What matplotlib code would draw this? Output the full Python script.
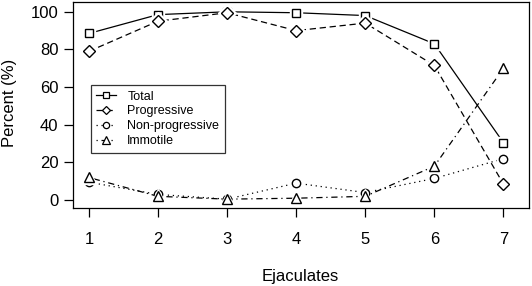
import numpy as np
import matplotlib
matplotlib.use('Agg')
import matplotlib.pyplot as plt

plt.rcParams["font.family"] = ["Liberation Sans", "DejaVu Sans"]

# data
ejaculates = [1, 2, 3, 4, 5, 6, 7]
total = [88.5, 98.5, 100, 99.5, 98, 83, 30.5]
progressive = [79, 95, 99.5, 90, 94, 71.5, 8.5]
non_progressive = [9.5, 3, 0.5, 9, 4, 11.5, 22]
immotile = [12, 2, 0.5, 1, 2, 18, 70]

series = [
    ("Total", total, "s", "-", 6.0),
    ("Progressive", progressive, "D", (0, (5, 3)), 6.0),
    ("Non-progressive", non_progressive, "o", (0, (1, 3)), 6.0),
    ("Immotile", immotile, "^", (0, (1, 3, 5, 3)), 7.0),
]

fig = plt.figure(figsize=(5.32, 2.86), dpi=100)
ax = fig.add_axes([73 / 532, 1 - 208 / 286, (529 - 73) / 532, 206 / 286])

names = []
for i, (name, vals, mk, ls, ms) in enumerate(series):
    z = 2 + i * 3
    ax.plot(ejaculates, vals, color="black", lw=0.9, ls=ls, zorder=z)
    # white halo so the line stops short of each point (like R type="b")
    ax.plot(ejaculates, vals, ls="none", marker=mk, ms=ms + 3, mfc="white",
            mec="white", zorder=z + 1)
    ax.plot(ejaculates, vals, ls="none", marker=mk, ms=ms, mfc="none",
            mec="black", mew=1.0, zorder=z + 2)
    names.append(name)

# legend handles with line + marker
leg_lines = []
for name, vals, mk, ls, ms in series:
    l, = ax.plot([], [], color="black", lw=0.9, ls=ls, marker=mk, ms=ms - 1.5,
                 mfc="white", mec="black", mew=0.9)
    leg_lines.append(l)
leg = ax.legend(leg_lines, names, loc="upper left",
                bbox_to_anchor=((90.5 - 73) / 456, (208 - 85) / 206),
                fontsize=9, frameon=True, fancybox=False, handlelength=1.6,
                handletextpad=0.9, borderpad=0.45, labelspacing=0.22,
                borderaxespad=0)
leg.get_frame().set_edgecolor("black")
leg.get_frame().set_linewidth(0.9)
leg.set_zorder(20)

ax.set_xlim(0.77, 7.37)
ax.set_ylim(-4.2, 105.2)
ax.set_xticks(ejaculates)
ax.set_yticks([0, 20, 40, 60, 80, 100])
ax.tick_params(direction="out", length=6.5, width=0.9, labelsize=12, pad=4)
ax.tick_params(axis="x", pad=11)
for s in ax.spines.values():
    s.set_linewidth(0.9)

fig.text(300 / 532, 1 - 276 / 286, "Ejaculates", ha="center", va="center",
         fontsize=12)
fig.text(10 / 532, 1 - 103 / 286, "Percent (%)", ha="center", va="center",
         rotation=90, fontsize=12)

fig.savefig("out.png", dpi=100)
